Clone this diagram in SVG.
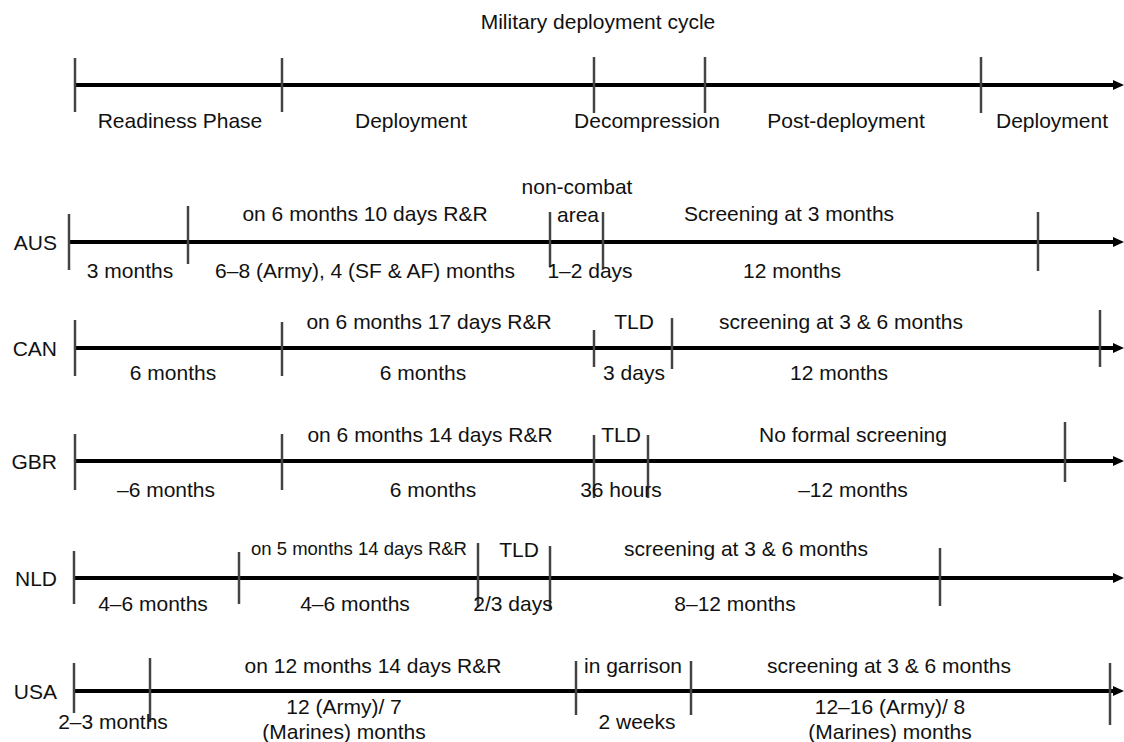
<svg xmlns="http://www.w3.org/2000/svg" width="1124" height="742" viewBox="0 0 1124 742">
<style>
text{font-family:"Liberation Sans",Arial,sans-serif;font-size:21px;fill:#111;}
.c{text-anchor:middle;}
.lab{text-anchor:end;}
.sm{font-size:18.5px;}
.axis{stroke:#000;stroke-width:4;fill:none;}
.tick{stroke:#444;stroke-width:2.5;}
</style>
<defs>
<marker id="arr" viewBox="0 0 11 10" refX="0" refY="5" markerWidth="11" markerHeight="10" markerUnits="userSpaceOnUse" orient="auto">
<path d="M0,0 L11,5 L0,10 z" fill="#000"/>
</marker>
</defs>
<rect width="1124" height="742" fill="#fff"/>
<text class="c" x="598" y="29">Military deployment cycle</text>

<g id="connectors">
<line class="axis" x1="75" y1="85" x2="1113" y2="85" marker-end="url(#arr)"/>
<line class="axis" x1="69" y1="242" x2="1113" y2="242" marker-end="url(#arr)"/>
<line class="axis" x1="75" y1="348" x2="1113" y2="348" marker-end="url(#arr)"/>
<line class="axis" x1="75" y1="461" x2="1113" y2="461" marker-end="url(#arr)"/>
<line class="axis" x1="74" y1="578" x2="1113" y2="578" marker-end="url(#arr)"/>
<line class="axis" x1="74" y1="691" x2="1113" y2="691" marker-end="url(#arr)"/>
</g>

<g id="general">
<line class="tick" x1="75" y1="58" x2="75" y2="112"/>
<line class="tick" x1="282" y1="58" x2="282" y2="112"/>
<line class="tick" x1="594" y1="57" x2="594" y2="113"/>
<line class="tick" x1="705" y1="57" x2="705" y2="113"/>
<line class="tick" x1="981" y1="57" x2="981" y2="113"/>
<text class="c" x="180" y="128">Readiness Phase</text>
<text class="c" x="411" y="128">Deployment</text>
<text class="c" x="647" y="128">Decompression</text>
<text class="c" x="846" y="128">Post-deployment</text>
<text class="c" x="1052" y="128">Deployment</text>
</g>

<g id="AUS">
<text class="lab" x="57" y="250">AUS</text>
<line class="tick" x1="69" y1="214" x2="69" y2="270"/>
<line class="tick" x1="188" y1="206" x2="188" y2="264"/>
<line class="tick" x1="550" y1="212" x2="550" y2="267"/>
<line class="tick" x1="603" y1="212" x2="603" y2="268"/>
<line class="tick" x1="1038" y1="212" x2="1038" y2="271"/>
<text class="c" x="365" y="221">on 6 months 10 days R&amp;R</text>
<text class="c" x="577" y="194">non-combat</text>
<text class="c" x="578" y="222">area</text>
<text class="c" x="789" y="221">Screening at 3 months</text>
<text class="c" x="130" y="278">3 months</text>
<text class="c" x="365" y="278">6–8 (Army), 4 (SF &amp; AF) months</text>
<text class="c" x="590" y="278">1–2 days</text>
<text class="c" x="792" y="278">12 months</text>
</g>

<g id="CAN">
<text class="lab" x="57" y="356">CAN</text>
<line class="tick" x1="75" y1="320" x2="75" y2="376"/>
<line class="tick" x1="282" y1="322" x2="282" y2="376"/>
<line class="tick" x1="594" y1="330" x2="594" y2="367"/>
<line class="tick" x1="672" y1="318" x2="672" y2="369"/>
<line class="tick" x1="1100" y1="310" x2="1100" y2="367"/>
<text class="c" x="429" y="329">on 6 months 17 days R&amp;R</text>
<text class="c" x="634" y="329">TLD</text>
<text class="c" x="841" y="329">screening at 3 &amp; 6 months</text>
<text class="c" x="173" y="380">6 months</text>
<text class="c" x="423" y="380">6 months</text>
<text class="c" x="634" y="380">3 days</text>
<text class="c" x="839" y="380">12 months</text>
</g>

<g id="GBR">
<text class="lab" x="57" y="469">GBR</text>
<line class="tick" x1="75" y1="434" x2="75" y2="490"/>
<line class="tick" x1="282" y1="434" x2="282" y2="490"/>
<line class="tick" x1="594" y1="435" x2="594" y2="498"/>
<line class="tick" x1="648" y1="435" x2="648" y2="498"/>
<line class="tick" x1="1065" y1="422" x2="1065" y2="482"/>
<text class="c" x="430" y="442">on 6 months 14 days R&amp;R</text>
<text class="c" x="621" y="442">TLD</text>
<text class="c" x="853" y="442">No formal screening</text>
<text class="c" x="166" y="497">–6 months</text>
<text class="c" x="433" y="497">6 months</text>
<text class="c" x="621" y="497">36 hours</text>
<text class="c" x="853" y="497">–12 months</text>
</g>

<g id="NLD">
<text class="lab" x="57" y="586">NLD</text>
<line class="tick" x1="74" y1="551" x2="74" y2="604"/>
<line class="tick" x1="239" y1="552" x2="239" y2="604"/>
<line class="tick" x1="478" y1="543" x2="478" y2="607"/>
<line class="tick" x1="550" y1="546" x2="550" y2="609"/>
<line class="tick" x1="940" y1="548" x2="940" y2="606"/>
<text class="c sm" x="359" y="555">on 5 months 14 days R&amp;R</text>
<text class="c" x="519" y="557">TLD</text>
<text class="c" x="746" y="556">screening at 3 &amp; 6 months</text>
<text class="c" x="153" y="611">4–6 months</text>
<text class="c" x="355" y="611">4–6 months</text>
<text class="c" x="513" y="611">2/3 days</text>
<text class="c" x="735" y="611">8–12 months</text>
</g>

<g id="USA">
<text class="lab" x="57" y="699">USA</text>
<line class="tick" x1="74" y1="663" x2="74" y2="713"/>
<line class="tick" x1="150" y1="658" x2="150" y2="722"/>
<line class="tick" x1="576" y1="661" x2="576" y2="715"/>
<line class="tick" x1="691" y1="661" x2="691" y2="715"/>
<line class="tick" x1="1110" y1="663" x2="1110" y2="725"/>
<text class="c" x="373" y="673">on 12 months 14 days R&amp;R</text>
<text class="c" x="633" y="673">in garrison</text>
<text class="c" x="889" y="673">screening at 3 &amp; 6 months</text>
<text class="c" x="113" y="729">2–3 months</text>
<text class="c" x="344" y="714">12 (Army)/ 7</text>
<text class="c" x="344" y="739">(Marines) months</text>
<text class="c" x="637" y="729">2 weeks</text>
<text class="c" x="890" y="714">12–16 (Army)/ 8</text>
<text class="c" x="890" y="739">(Marines) months</text>
</g>
</svg>
